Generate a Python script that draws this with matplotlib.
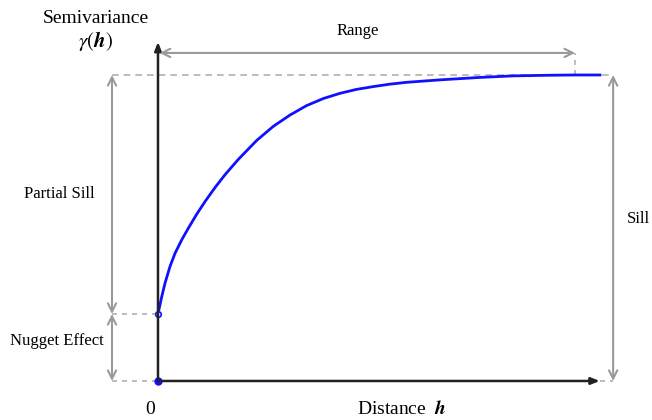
import matplotlib
matplotlib.use("Agg")
import matplotlib.pyplot as plt

# semivariogram curve (range = 1, sill = 1)
dist = [0.0, 0.0089, 0.0167, 0.0287, 0.0407, 0.0567, 0.0725, 0.0926, 0.1124,
        0.1364, 0.1603, 0.1921, 0.2361, 0.2758, 0.3158, 0.3557, 0.3955, 0.4354,
        0.4754, 0.5151, 0.5550, 0.5950, 0.6347, 0.6746, 0.7703, 0.8493, 0.9306,
        0.9976, 1.0574]
gamma = [0.219, 0.275, 0.319, 0.374, 0.417, 0.461, 0.499, 0.545, 0.586,
         0.632, 0.674, 0.724, 0.786, 0.832, 0.869, 0.900, 0.923, 0.940,
         0.953, 0.962, 0.970, 0.976, 0.980, 0.984, 0.992, 0.997, 0.999,
         1.000, 1.000]
nugget = 0.219
sill = 1.0
rng = 0.998

plt.rcParams['font.family'] = ['Liberation Serif', 'DejaVu Serif']
plt.rcParams['mathtext.fontset'] = 'stix'

fig = plt.figure(figsize=(6.52, 4.2), dpi=100)
ax = fig.add_axes([0, 0, 1, 1])
ax.set_xlim(-0.378, 1.182)
ax.set_ylim(-0.1275, 1.245)
ax.axis('off')

grey = '#9a9a9a'
dash = '#b0b0b0'
dark = '#222222'
blue = '#1010ff'
xl = -0.110   # x of the left annotation arrows
xs = 1.089    # x of the sill arrow

# dashed guide lines
ax.plot([xl, xs], [sill, sill], ls=(0, (4, 3)), color=dash, lw=1.2)
ax.plot([xl, 0], [nugget, nugget], ls=(0, (3, 3)), color=dash, lw=1.2)
ax.plot([xl, 0], [0, 0], ls=(0, (3, 3)), color=dash, lw=1.2)
ax.plot([1.057, xs], [0, 0], ls=(0, (3, 3)), color=dash, lw=1.2)
ax.plot([rng, rng], [sill, 1.072], ls=(0, (3, 3)), color=dash, lw=1.2)

# axes with arrows
ax.annotate('', xy=(0, 1.108), xytext=(0, 0),
            arrowprops=dict(arrowstyle='-|>,head_length=0.5,head_width=0.2',
                            color=dark, lw=1.8, shrinkA=0, shrinkB=0))
ax.annotate('', xy=(1.057, 0), xytext=(0, 0),
            arrowprops=dict(arrowstyle='-|>,head_length=0.5,head_width=0.2',
                            color=dark, lw=1.8, shrinkA=0, shrinkB=0))

# grey double arrows
opn = dict(arrowstyle='<->,head_length=0.6,head_width=0.3',
           color=grey, lw=1.5, shrinkA=0, shrinkB=0)
ax.annotate('', xy=(0.004, 1.072), xytext=(rng, 1.072), arrowprops=opn)
ax.annotate('', xy=(xl, sill), xytext=(xl, nugget), arrowprops=opn)
ax.annotate('', xy=(xl, nugget), xytext=(xl, 0), arrowprops=opn)
ax.annotate('', xy=(xs, sill), xytext=(xs, 0), arrowprops=opn)

# curve
ax.plot(dist, gamma, color=blue, lw=2, solid_joinstyle='round')
ax.plot([0], [nugget], 'o', ms=4, mfc='white', mec=blue, mew=1.2)
ax.plot([0], [0], 'o', ms=5, color=blue)

# labels
ax.text(-0.149, 1.186, 'Semivariance', ha='center', va='center', fontsize=14)
ax.text(-0.149, 1.110, r'$\gamma(\boldsymbol{h})$', ha='center', va='center', fontsize=15)
ax.text(0.478, 1.143, 'Range', ha='center', va='center', fontsize=12)
ax.text(-0.237, 0.612, 'Partial Sill', ha='center', va='center', fontsize=12)
ax.text(-0.242, 0.130, 'Nugget Effect', ha='center', va='center', fontsize=12)
ax.text(1.150, 0.530, 'Sill', ha='center', va='center', fontsize=12)
ax.text(-0.019, -0.092, '0', ha='center', va='center', fontsize=14)
ax.text(0.583, -0.092, r'Distance  $\boldsymbol{h}$', ha='center', va='center', fontsize=14)

fig.savefig('out.png', dpi=100)
plt.close(fig)
